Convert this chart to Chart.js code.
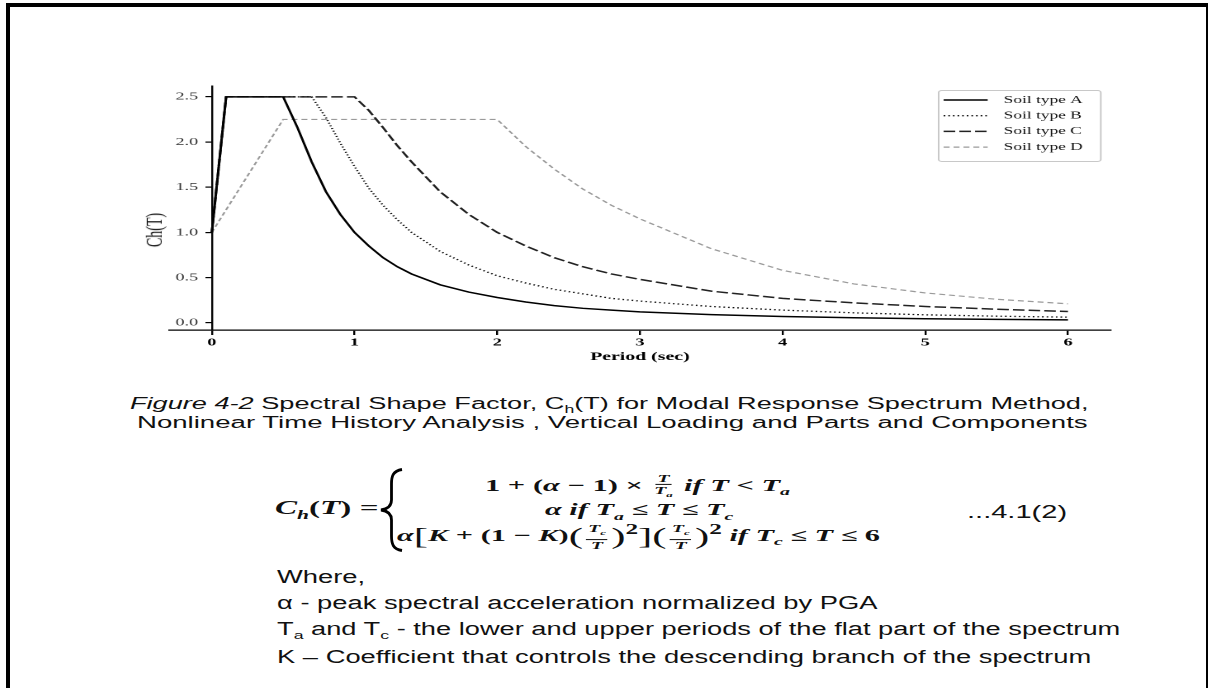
<!DOCTYPE html>
<html>
<head>
<meta charset="utf-8">
<title>Spectral Shape Factor</title>
<script src="https://cdn.jsdelivr.net/npm/chart.js@4.4.1/dist/chart.umd.min.js"></script>
<style>
  html, body { margin: 0; padding: 0; background: #fff; }
  body { position: relative; width: 1208px; height: 688px; overflow: hidden; color: #111; font-family: "Liberation Sans", Arial, sans-serif; }
  #frame { position: absolute; left: 6px; top: 3px; width: 1202px; height: 720px; box-sizing: border-box; border-top: 4px solid #000; border-left: 4px solid #000; border-right: 2px solid #000; }
  #chartWrap { position: absolute; left: 160px; top: 60px; height: 304px; transform-origin: 0 0; }
  #yTitle { position: absolute; left: 155px; top: 230px; font-family: "Liberation Serif", serif; font-size: 14px; white-space: nowrap; transform: translate(-50%, -50%) scaleX(1.65) rotate(-90deg); }
  .fit { position: absolute; white-space: nowrap; transform-origin: 0 50%; }
  .cap { font-size: 16px; }
  .txt { font-size: 18px; }
  .math { font-family: "Liberation Serif", serif; font-weight: bold; font-size: 17px; }
  .frac { display: inline-flex; flex-direction: column; align-items: center; vertical-align: middle; font-size: 11px; line-height: 11px; margin: 0 2px; }
  .frac > span:first-child { border-bottom: 1px solid #111; padding: 0 1px; }
  .big { font-size: 24px; font-weight: normal; vertical-align: -3px; }
  sub { font-size: 65%; }
  #brace { position: absolute; left: 378px; top: 468px; }
</style>
</head>
<body>
<div id="frame"></div>

<div id="chartWrap"><canvas id="spectrum"></canvas></div>
<div id="yTitle">Ch(T)</div>

<!-- caption -->
<div class="fit cap" data-x="130" data-y="405" data-w="958"><i>Figure 4-2</i> Spectral Shape Factor, C<sub>h</sub>(T) for Modal Response Spectrum Method,</div>
<div class="fit cap" data-x="137" data-y="423" data-w="950">Nonlinear Time History Analysis , Vertical Loading and Parts and Components</div>

<!-- equation -->
<div class="fit math" data-x="275" data-y="510" data-w="103" style="font-size:18px"><i>C<sub>h</sub></i>(<i>T</i>) =</div>
<svg id="brace" width="28" height="84">
  <path d="M24,1.5 C15,3 13.5,8 13.5,16 L13.5,32 C13.5,38 10,41 3,42 C10,43 13.5,46 13.5,52 L13.5,68 C13.5,76 15,81 24,82.5" fill="none" stroke="#000" stroke-width="2.8"/>
</svg>
<div class="fit math" data-x="485" data-y="487" data-w="305">1 + (<i>α</i> − 1) × <span class="frac"><span><i>T</i></span><span><i>T<sub>a</sub></i></span></span> <i>if T</i> &lt; <i>T<sub>a</sub></i></div>
<div class="fit math" data-x="545" data-y="511" data-w="189"><i>α if T<sub>a</sub></i> ≤ <i>T</i> ≤ <i>T<sub>c</sub></i></div>
<div class="fit math" data-x="397" data-y="536" data-w="483"><i>α</i><span class="big">[</span><i>K</i> + (1 − <i>K</i>)<span class="big">(</span><span class="frac"><span><i>T<sub>c</sub></i></span><span><i>T</i></span></span><span class="big">)</span><sup>2</sup><span class="big">]</span><span class="big">(</span><span class="frac"><span><i>T<sub>c</sub></i></span><span><i>T</i></span></span><span class="big">)</span><sup>2</sup> <i>if T<sub>c</sub></i> ≤ <i>T</i> ≤ 6</div>
<div class="fit txt" data-x="967" data-y="512" data-w="100">...4.1(2)</div>

<!-- notes -->
<div class="fit txt" data-x="277" data-y="577" data-w="88">Where,</div>
<div class="fit txt" data-x="277" data-y="603" data-w="601">α - peak spectral acceleration normalized by PGA</div>
<div class="fit txt" data-x="277" data-y="630" data-w="843">T<sub>a</sub> and T<sub>c</sub> - the lower and upper periods of the flat part of the spectrum</div>
<div class="fit txt" data-x="277" data-y="657" data-w="814">K – Coefficient that controls the descending branch of the spectrum</div>

<script>
// ================= DATA =================
const periods = [0, 0.1, 0.5, 0.6, 0.7, 0.8, 0.9, 1.0, 1.1, 1.2, 1.3, 1.4, 1.6, 1.8, 2.0, 2.2, 2.4, 2.6, 2.8, 3.0, 3.5, 4.0, 4.5, 5.0, 5.5, 6.0];
const soilA = [1.0, 2.5, 2.5, 2.16, 1.78, 1.45, 1.2, 1.0, 0.85, 0.72, 0.62, 0.54, 0.42, 0.34, 0.28, 0.23, 0.19, 0.16, 0.14, 0.12, 0.09, 0.07, 0.055, 0.045, 0.037, 0.032];
const soilB = [1.0, 2.5, 2.5, 2.5, 2.5, 2.27, 1.99, 1.73, 1.49, 1.30, 1.14, 1.0, 0.79, 0.64, 0.52, 0.44, 0.37, 0.32, 0.27, 0.24, 0.18, 0.14, 0.11, 0.088, 0.073, 0.062];
const soilC = [1.0, 2.5, 2.5, 2.5, 2.5, 2.5, 2.5, 2.5, 2.35, 2.16, 1.96, 1.78, 1.45, 1.2, 1.0, 0.85, 0.72, 0.62, 0.54, 0.48, 0.35, 0.27, 0.22, 0.18, 0.15, 0.125];
const soilD = [1.0, 1.25, 2.25, 2.25, 2.25, 2.25, 2.25, 2.25, 2.25, 2.25, 2.25, 2.25, 2.25, 2.25, 2.25, 1.95, 1.70, 1.48, 1.30, 1.15, 0.82, 0.58, 0.43, 0.33, 0.26, 0.21];
const soilLabels = ["Soil type A", "Soil type B", "Soil type C", "Soil type D"];
const periodTicks = [0, 1, 2, 3, 4, 5, 6];
const chTicks = [0, 0.5, 1.0, 1.5, 2.0, 2.5];

// the original picture is stretched sideways, so the chart is too
const S = 1.65;
const serif = '"Liberation Serif", "Times New Roman", serif';

const wrap = document.getElementById("chartWrap");
wrap.style.width = (960 / S) + "px";
wrap.style.transform = "scaleX(" + S + ")";

function series(values) {
    return periods.map((t, i) => ({ x: t, y: values[i] }));
}

// ================= LEGEND (inside plot, top right) =================
const soilLegend = {
    id: "soilLegend",
    afterDatasetsDraw(chart) {
        const { ctx, chartArea } = chart;
        const w = 162 / S, h = 71;
        const x0 = chartArea.right - 172 / S;
        const y0 = chartArea.top + 4;
        ctx.save();
        ctx.beginPath();
        ctx.roundRect(x0, y0 + 0.5, w, h, 2);
        ctx.fillStyle = "rgba(255,255,255,0.9)";
        ctx.fill();
        ctx.strokeStyle = "#c8c8c8";
        ctx.lineWidth = 1;
        ctx.stroke();
        ctx.font = "10.5px " + serif;
        ctx.textBaseline = "middle";
        chart.data.datasets.forEach((ds, i) => {
            const y = y0 + 10 + i * 15.7;
            ctx.beginPath();
            ctx.setLineDash(ds.borderDash || []);
            ctx.strokeStyle = ds.borderColor;
            ctx.lineWidth = ds.borderWidth;
            ctx.moveTo(x0 + 5 / S, y);
            ctx.lineTo(x0 + 49 / S, y);
            ctx.stroke();
            ctx.setLineDash([]);
            ctx.fillStyle = "#111";
            ctx.fillText(ds.label, x0 + 65 / S, y);
        });
        ctx.restore();
    }
};

// ================= CHART =================
new Chart(document.getElementById("spectrum"), {
    type: "line",
    data: {
        datasets: [
            { label: soilLabels[0], data: series(soilA), borderColor: "#000", borderWidth: 1.5 },
            { label: soilLabels[1], data: series(soilB), borderColor: "#111", borderWidth: 1.3, borderDash: [1, 1.8] },
            { label: soilLabels[2], data: series(soilC), borderColor: "#222", borderWidth: 1.5, borderDash: [7, 2.5] },
            { label: soilLabels[3], data: series(soilD), borderColor: "#9a9a9a", borderWidth: 1.2, borderDash: [3.6, 2.4] }
        ]
    },
    options: {
        responsive: true,
        maintainAspectRatio: false,
        animation: false,
        devicePixelRatio: 2,
        elements: { point: { radius: 0 }, line: { tension: 0, fill: false } },
        layout: { padding: { left: 9 / S, right: 10 / S, top: 26, bottom: 0 } },
        plugins: { legend: { display: false }, tooltip: { enabled: false } },
        scales: {
            x: {
                type: "linear",
                min: -0.3,
                max: 6.3,
                afterBuildTicks: s => { s.ticks = periodTicks.map(v => ({ value: v })); },
                afterFit: s => { s.height = 34; },
                grid: { drawOnChartArea: false, drawTicks: true, tickLength: 5, color: "#000", lineWidth: 1.2 },
                border: { display: true, color: "#000", width: 1.3 },
                ticks: { color: "#000", padding: 1, maxRotation: 0, font: { family: serif, size: 11, weight: "bold" } },
                title: { display: true, text: "Period (sec)", color: "#000", padding: 0, font: { family: serif, size: 12, weight: "bold" } }
            },
            y: {
                type: "linear",
                position: { x: 0 },
                min: -0.08,
                max: 2.62,
                afterBuildTicks: s => { s.ticks = chTicks.map(v => ({ value: v })); },
                grid: { drawOnChartArea: false, drawTicks: true, tickLength: 3.5, color: "#000", lineWidth: 1.2 },
                border: { display: true, color: "#000", width: 1.2 },
                // trailing spaces keep the labels clear of the axis line
                ticks: { color: "#333", padding: 2, callback: v => Number(v).toFixed(1) + "   ", font: { family: serif, size: 11 } }
            }
        }
    },
    plugins: [soilLegend]
});

// ================= TEXT STRETCH =================
function fitLines() {
    document.querySelectorAll(".fit").forEach(el => {
        el.style.left = el.dataset.x + "px";
        el.style.top = el.dataset.y + "px";
        const natural = el.offsetWidth;
        const s = Number(el.dataset.w) / natural;
        el.style.transform = "translateY(-50%) scaleX(" + s.toFixed(3) + ")";
    });
}
document.fonts.ready.then(fitLines);
</script>
</body>
</html>
